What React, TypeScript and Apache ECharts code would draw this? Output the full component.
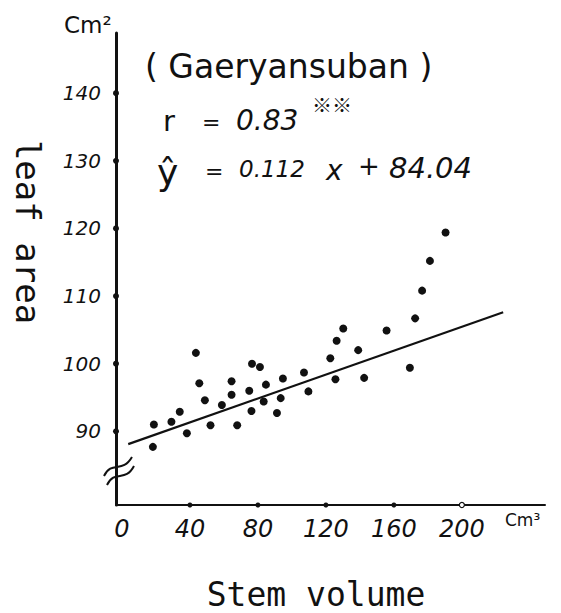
import { useEffect, useRef } from "react";
import * as echarts from "echarts";

// Stem volume (cm³) and leaf area (cm²) of individual plants
const stemVolume = [
  190.4, 181.2, 176.6, 172.5, 155.7, 130.2, 126.3, 139.0, 122.6, 107.1,
  169.4, 125.6, 142.5, 109.7, 43.5, 76.5, 81.2, 94.7, 45.5, 64.5,
  84.7, 74.9, 64.5, 93.4, 48.8, 83.4, 58.8, 34.0, 76.2, 91.2,
  29.1, 18.8, 52.1, 67.8, 38.2, 18.2,
];
const leafArea = [
  119.4, 115.2, 110.8, 106.7, 104.9, 105.2, 103.4, 102.0, 100.8, 98.7,
  99.4, 97.7, 97.9, 95.9, 101.6, 100.0, 99.5, 97.8, 97.1, 97.4,
  96.9, 96.0, 95.4, 94.9, 94.6, 94.4, 93.9, 92.9, 93.0, 92.7,
  91.4, 91.0, 90.9, 90.9, 89.7, 87.7,
];

// Fitted line as drawn across the plot
const fitX = [3.7, 224.3];
const fitY = [88.1, 107.6];

const xTicks = [0, 40, 80, 120, 160, 200];
const yTicks = [90, 100, 110, 120, 130, 140];

const X_MIN = -3.5;
const X_MAX = 248.9;
const Y_MIN = 79.1;
const Y_MAX = 148.9;

const INK = "#111";
const SANS = "'DejaVu Sans'";
const MONO = "'DejaVu Sans Mono'";

export default function App() {
  const ref = useRef<HTMLDivElement | null>(null);

  useEffect(() => {
    if (!ref.current) return;
    const chart = echarts.init(ref.current, null, { renderer: "svg" });

    const points = stemVolume.map((x, i) => [x, leafArea[i]]);
    const fit = fitX.map((x, i) => [x, fitY[i]]);
    const yTickDots = yTicks.map((v) => [X_MIN, v]);
    const lastX = xTicks[xTicks.length - 1];
    const xTickDots = xTicks
      .filter((v) => v > 0)
      .map((v) =>
        v === lastX
          ? { value: [v, Y_MIN], itemStyle: { color: "#fff", borderColor: INK, borderWidth: 1.2 } }
          : { value: [v, Y_MIN] }
      );

    const txt = (
      x: number,
      y: number,
      text: string,
      font: string,
      extra: Record<string, unknown> = {}
    ) => ({
      type: "text",
      x,
      y,
      silent: true,
      style: {
        text,
        font,
        fill: INK,
        align: "left",
        verticalAlign: "middle",
        ...extra,
      },
    });

    chart.setOption({
      animation: false,
      backgroundColor: "#fff",
      grid: { left: 116, top: 33, width: 429, height: 472, containLabel: false },
      xAxis: {
        type: "value",
        min: X_MIN,
        max: X_MAX,
        splitLine: { show: false },
        axisLine: { show: true, onZero: false, lineStyle: { color: INK, width: 2 } },
        axisTick: { show: false },
        axisLabel: {
          customValues: xTicks,
          color: INK,
          fontFamily: "DejaVu Sans",
          fontStyle: "italic",
          fontSize: 24,
          margin: 12,
        },
      },
      yAxis: {
        type: "value",
        min: Y_MIN,
        max: Y_MAX,
        splitLine: { show: false },
        axisLine: { show: true, onZero: false, lineStyle: { color: INK, width: 3 } },
        axisTick: { show: false },
        axisLabel: {
          customValues: yTicks,
          color: INK,
          fontFamily: "DejaVu Sans",
          fontStyle: "italic",
          fontSize: 20,
          margin: 15,
        },
      },
      series: [
        {
          name: "fit",
          type: "line",
          data: fit,
          symbol: "none",
          lineStyle: { color: INK, width: 2.2 },
          silent: true,
        },
        {
          name: "plants",
          type: "scatter",
          data: points,
          symbol: "circle",
          symbolSize: 8,
          itemStyle: { color: INK, opacity: 1 },
        },
        {
          name: "yTickDots",
          type: "scatter",
          data: yTickDots,
          symbolSize: 6,
          clip: false,
          silent: true,
          itemStyle: { color: INK, opacity: 1 },
        },
        {
          name: "xTickDots",
          type: "scatter",
          data: xTickDots,
          symbolSize: 5,
          clip: false,
          silent: true,
          itemStyle: { color: INK, opacity: 1 },
        },
      ],
      graphic: [
        // axis break on the vertical axis
        {
          type: "polygon",
          silent: true,
          shape: { points: [[104, 474], [132, 456], [134, 466], [107, 484]] },
          style: { fill: "#fff" },
        },
        {
          type: "bezierCurve",
          silent: true,
          shape: { x1: 104, y1: 476, cpx1: 112, cpy1: 460, cpx2: 122, cpy2: 474, x2: 132, y2: 457 },
          style: { stroke: INK, lineWidth: 2, fill: "none" },
        },
        {
          type: "bezierCurve",
          silent: true,
          shape: { x1: 107, y1: 485, cpx1: 115, cpy1: 469, cpx2: 125, cpy2: 483, x2: 134, y2: 466 },
          style: { stroke: INK, lineWidth: 2, fill: "none" },
        },
        // units
        txt(64, 25, "Cm²", `23px ${SANS}`),
        txt(505, 520, "Cm³", `17px ${SANS}`),
        // axis titles
        {
          type: "text",
          x: 28,
          y: 232,
          rotation: -Math.PI / 2,
          silent: true,
          style: {
            text: "leaf area",
            font: `34px ${MONO}`,
            fill: INK,
            align: "center",
            verticalAlign: "middle",
          },
        },
        txt(316, 594, "Stem volume", `33px ${MONO}`, { align: "center" }),
        // annotation
        txt(145, 66, "( Gaeryansuban )", `33px ${SANS}`),
        txt(163, 121, "r", `29px ${SANS}`),
        txt(202, 122, "=", `22px ${SANS}`),
        txt(236, 120, "0.83", `italic 28px ${SANS}`),
        txt(312, 104, "※※", `bold 20px 'Noto Sans CJK JP'`),
        txt(157, 172, "ŷ", `36px ${SANS}`),
        txt(205, 171, "=", `22px ${SANS}`),
        txt(239, 169, "0.112", `italic 23px ${SANS}`),
        txt(326, 170, "x", `italic 28px ${SANS}`),
        txt(358, 166, "+", `26px ${SANS}`),
        txt(389, 168, "84.04", `italic 29px ${SANS}`),
      ],
    });

    return () => chart.dispose();
  }, []);

  return (
    <div
      ref={ref}
      style={{ position: "absolute", left: 0, top: 0, width: 561, height: 613 }}
    />
  );
}
